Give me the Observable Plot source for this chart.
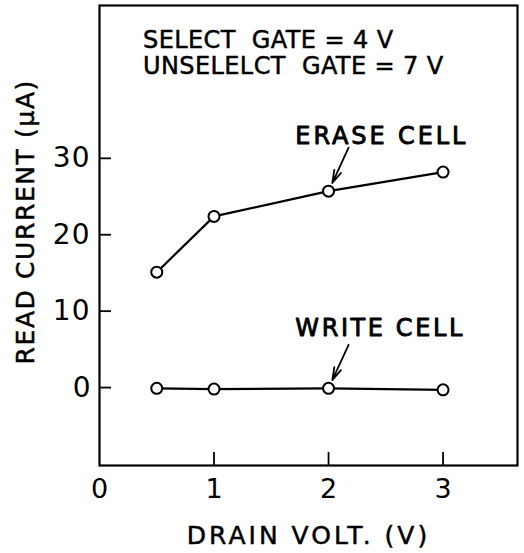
<!DOCTYPE html>
<html><head><meta charset="utf-8">
<script src="https://cdn.jsdelivr.net/npm/d3@7"></script>
<script src="https://cdn.jsdelivr.net/npm/@observablehq/plot@0.6"></script>
<style>body{margin:0;background:#fff}</style>
</head><body><div id="chart"></div>
<script>
const drainVolt = [0.5, 1, 2, 3];
const eraseCurrent = [15.1, 22.4, 25.7, 28.2];
const writeCurrent = [-0.1, -0.2, -0.1, -0.3];
const xTickLabels = [0, 1, 2, 3];
const xTickMarks = [1, 2, 3];
const yTickLabels = [0, 10, 20, 30];
const xLabel = "DRAIN VOLT. (V)";
const yLabel = "READ CURRENT (\u03BCA)";
const headerLines = ["SELECT  GATE = 4 V", "UNSELELCT  GATE = 7 V"];
const seriesNames = ["ERASE CELL", "WRITE CELL"];

const erase = drainVolt.map((x, i) => ({x, y: eraseCurrent[i]}));
const write = drainVolt.map((x, i) => ({x, y: writeCurrent[i]}));
// annotation arrows point at the third point of each series
const arrows = [
  {x: drainVolt[2], y: eraseCurrent[2], name: seriesNames[0], dy: 6.2},
  {x: drainVolt[2], y: writeCurrent[2], name: seriesNames[1], dy: 6.9}
];
const font = "DejaVu Sans, Verdana, sans-serif";
const thick = {stroke: "#000", fill: "#000", strokeWidth: 0.5};

const chart = Plot.plot({
  width: 524, height: 553,
  marginTop: 5, marginLeft: 99, marginRight: 7, marginBottom: 88,
  x: {domain: [0, 3.65]},
  y: {domain: [-10.2, 50]},
  style: {fontFamily: font, color: "#000", background: "#fff"},
  marks: [
    Plot.frame({stroke: "#000", strokeWidth: 2.2}),
    // inward tick marks
    Plot.axisY(yTickLabels, {tickSize: 12, dx: 12, strokeWidth: 1.8, tickFormat: () => "", label: null}),
    Plot.axisX(xTickMarks, {tickSize: 13, dy: -13, strokeWidth: 1.8, tickFormat: () => "", label: null}),
    // tick labels
    Plot.axisY(yTickLabels, {tickSize: 0, tickPadding: 9, fontSize: 28, label: null, tickFormat: d3.format("d"), ...thick}),
    Plot.axisX(xTickLabels, {tickSize: 0, tickPadding: 13, fontSize: 27, label: null, tickFormat: d3.format("d"), ...thick}),
    // axis titles
    Plot.text([xLabel], {frameAnchor: "bottom", text: d => d, dy: 70, fontSize: 25, lineAnchor: "middle", ...thick}),
    Plot.text([yLabel], {x: -0.64, y: 21.7, text: d => d, rotate: -90, fontSize: 25, lineAnchor: "middle", ...thick}),
    // series
    Plot.line(erase, {x: "x", y: "y", stroke: "#000", strokeWidth: 2.2}),
    Plot.line(write, {x: "x", y: "y", stroke: "#000", strokeWidth: 2.2}),
    Plot.dot(erase, {x: "x", y: "y", r: 5.5, fill: "#fff", stroke: "#000", strokeWidth: 2}),
    Plot.dot(write, {x: "x", y: "y", r: 5.5, fill: "#fff", stroke: "#000", strokeWidth: 2}),
    // annotations
    Plot.arrow(arrows, {x1: d => d.x + 0.175, y1: d => d.y + 5.7, x2: "x", y2: "y", insetEnd: 9,
      stroke: "#000", strokeWidth: 1.8, headLength: 11, headAngle: 32}),
    Plot.text(arrows, {x: d => d.x - 0.29, y: d => d.y + d.dy, text: "name", textAnchor: "start", lineAnchor: "bottom",
      fontSize: 24, stroke: "#000", fill: "#000", strokeWidth: 0.9}),
    Plot.text(headerLines, {x: 0.38, y: (d, i) => [44.5, 41.0][i], text: d => d, textAnchor: "start", lineAnchor: "bottom",
      fontSize: 24, ...thick})
  ]
});
const spacing = new Map([
  [xLabel, 3], [yLabel, 1.6], [seriesNames[0], 2.9], [seriesNames[1], 2.6],
  [headerLines[0], 0.4], [headerLines[1], 0.4], ["10", 1], ["20", 1], ["30", 1]
]);
d3.select(chart).selectAll("text").each(function() {
  const v = spacing.get(this.textContent);
  if (v != null) this.style.letterSpacing = v + "px";
});
document.getElementById("chart").append(chart);
</script>
</body></html>
